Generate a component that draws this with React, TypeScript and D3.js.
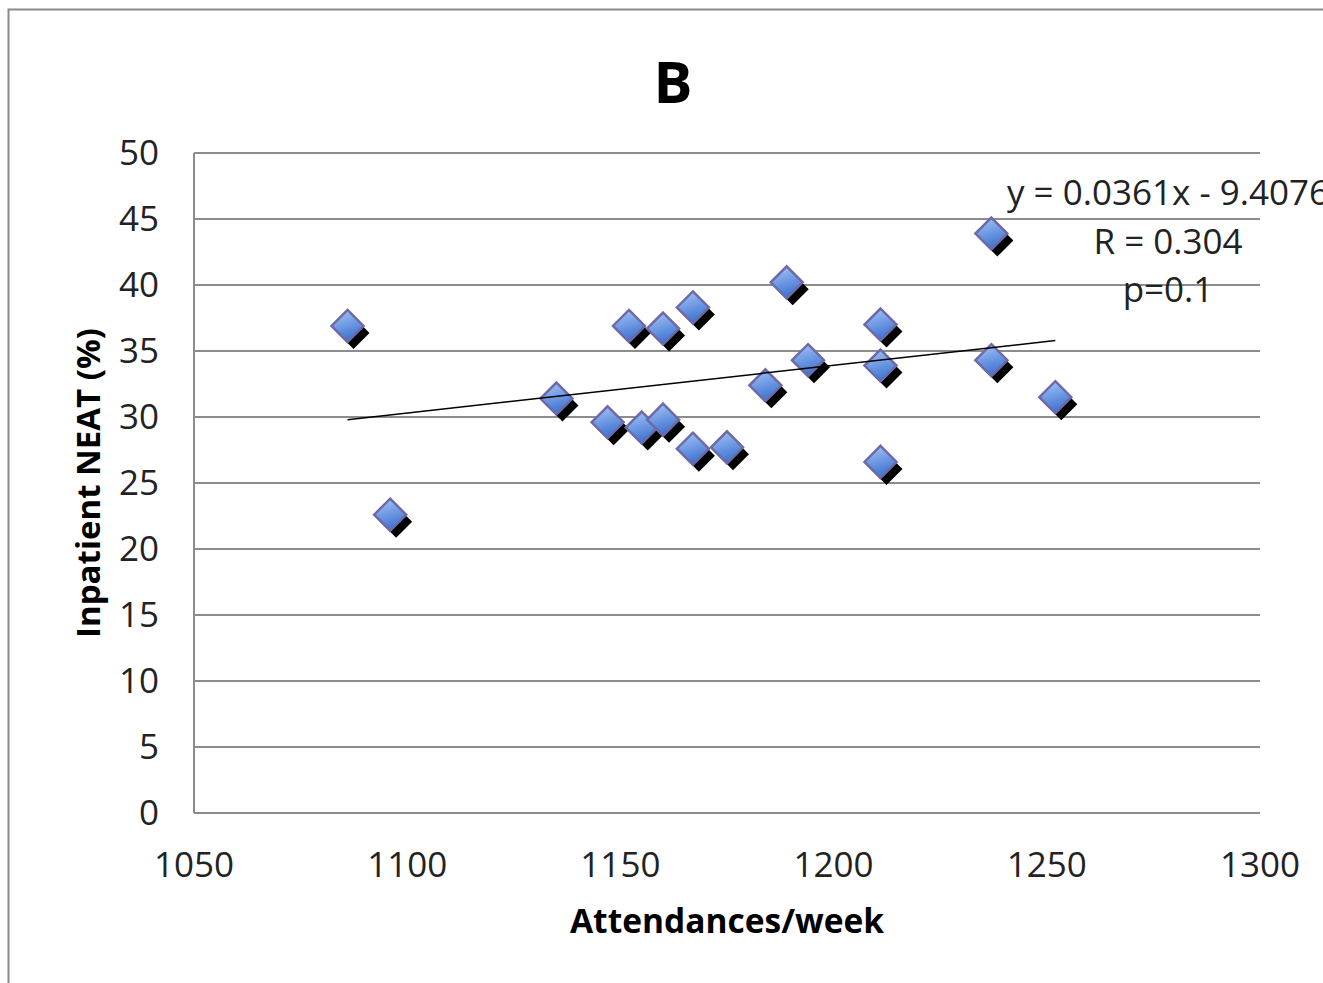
import React from 'react';
import * as d3 from 'd3';

// attendances per week vs inpatient NEAT (%)
const attendances = [1086, 1096, 1135, 1147, 1152, 1155, 1160, 1160, 1167, 1167, 1175, 1184, 1189, 1194, 1211, 1211, 1211, 1237, 1237, 1252];
const neat = [36.9, 22.6, 31.4, 29.6, 36.9, 29.2, 36.7, 29.8, 38.3, 27.6, 27.7, 32.4, 40.2, 34.3, 37.0, 33.9, 26.6, 43.9, 34.3, 31.5];

const xTicks = [1050, 1100, 1150, 1200, 1250, 1300];
const yTicks = [0, 5, 10, 15, 20, 25, 30, 35, 40, 45, 50];

const slope = 0.0361;
const intercept = -9.4076;
const eqLines = ['y = 0.0361x - 9.4076', 'R = 0.304', 'p=0.1'];

const W = 1323;
const H = 983;
const font = "'Open Sans', 'DejaVu Sans', sans-serif";
const gridColor = '#8c8c8c';

export default function App() {
  const x = d3.scaleLinear().domain([1050, 1300]).range([194, 1260]);
  const y = d3.scaleLinear().domain([0, 50]).range([813, 153]);

  const pts = attendances.map((a, i) => ({ a, v: neat[i] }));
  const [xMin, xMax] = d3.extent(attendances) as [number, number];
  const trend = d3.line<number>()
    .x(d => x(d))
    .y(d => y(slope * d + intercept));

  const r = 16;
  const diamond = `M0,${-r}L${r},0L0,${r}L${-r},0Z`;

  return (
    <svg width={W} height={H} style={{ position: 'absolute', left: 0, top: 0, background: '#fff' }}>
      <defs>
        <linearGradient id="mk" x1="0" y1="0" x2="0.3" y2="1">
          <stop offset="0" stopColor="#a9c8f8" />
          <stop offset="1" stopColor="#3f74d2" />
        </linearGradient>
      </defs>

      <rect x={8.5} y={9.5} width={1400} height={1100} fill="#fff" stroke="#8a8a8a" strokeWidth={2} />

      <text x={673} y={103} textAnchor="middle" fontFamily={font} fontWeight="bold" fontSize={58} fill="#000">B</text>

      {/* gridlines */}
      {yTicks.map(t => (
        <line key={t} x1={x(1050)} x2={x(1300)} y1={y(t)} y2={y(t)} stroke={gridColor} strokeWidth={2} />
      ))}
      <line x1={x(1050)} x2={x(1050)} y1={y(50)} y2={y(0)} stroke={gridColor} strokeWidth={2} />

      {yTicks.map(t => (
        <text key={t} x={159} y={y(t)} dy="0.35em" textAnchor="end" fontFamily={font} fontSize={35} fill="#222">{t}</text>
      ))}
      {xTicks.map(t => (
        <text key={t} x={x(t)} y={865} dy="0.35em" textAnchor="middle" fontFamily={font} fontSize={35} fill="#222">{t}</text>
      ))}

      <text x={727} y={933} textAnchor="middle" fontFamily={font} fontWeight="bold" fontSize={33.5} fill="#000">Attendances/week</text>
      <text transform="translate(100,483) rotate(-90)" textAnchor="middle" fontFamily={font} fontWeight="bold" fontSize={33} fill="#000">Inpatient NEAT (%)</text>

      {/* points */}
      {pts.map((p, i) => (
        <g key={i} transform={`translate(${x(p.a)},${y(p.v)})`}>
          <path d={diamond} transform="translate(6,7)" fill="#000" />
          <path d={diamond} fill="url(#mk)" stroke="#6e6aa8" strokeWidth={2.5} />
        </g>
      ))}

      <path d={trend([xMin, xMax]) || ''} fill="none" stroke="#000" strokeWidth={1.5} />

      {eqLines.map((s, i) => (
        <text key={i} x={1168} y={205 + i * 48.5} textAnchor="middle" fontFamily={font} fontSize={35} fill="#222">{s}</text>
      ))}
    </svg>
  );
}
